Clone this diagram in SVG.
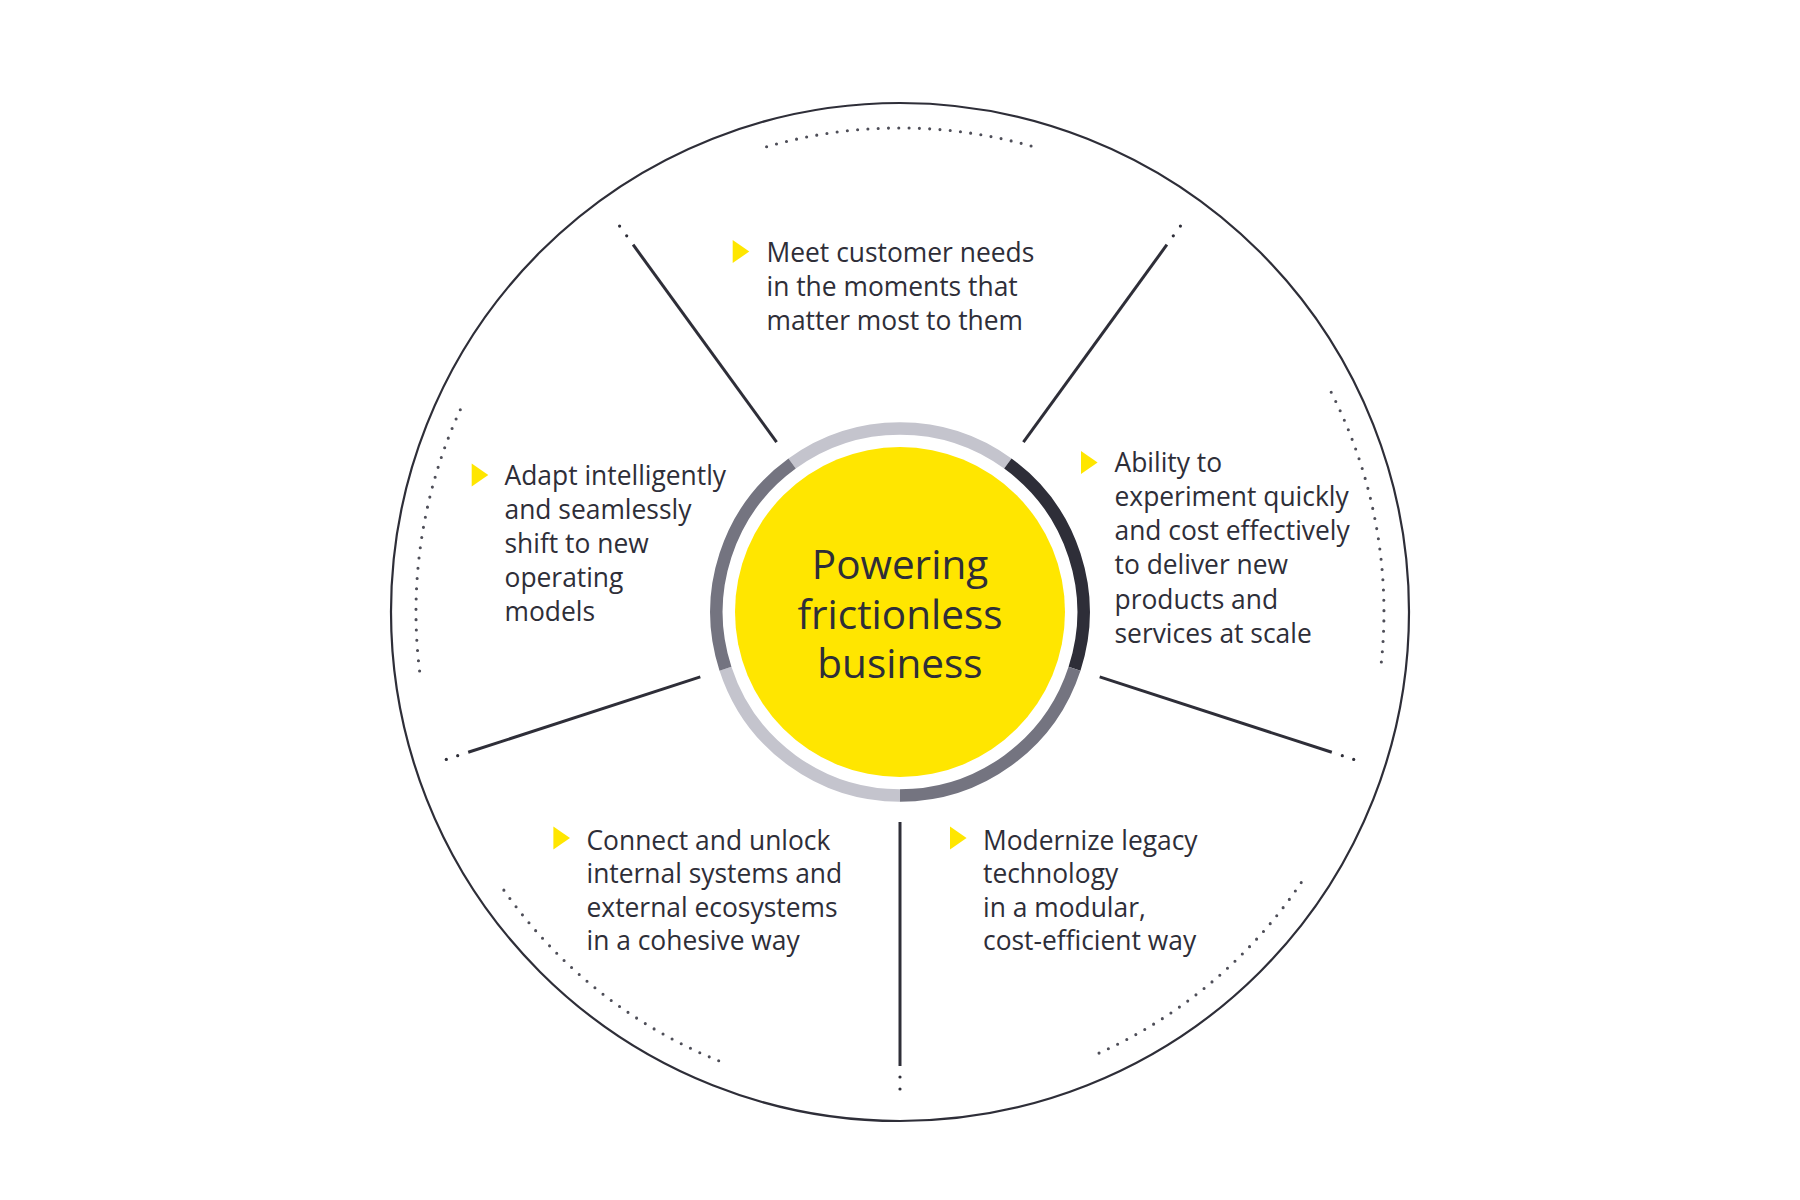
<svg xmlns="http://www.w3.org/2000/svg" width="1800" height="1200" viewBox="0 0 1800 1200">
  <style>
    .bg { fill: #ffffff; }
    .outer { fill: none; stroke: #2e2e38; stroke-width: 2.2; }
    .spoke { stroke: #2e2e38; stroke-width: 3; stroke-linecap: butt; fill: none; }
    .sdot { fill: #2e2e38; }
    .dotarc { fill: none; stroke: #4e4e58; stroke-width: 3.1; stroke-linecap: round; stroke-dasharray: 0 10.3; }
    .seg { fill: none; stroke-width: 12.5; stroke-linecap: butt; }
    .light { stroke: #c4c4cd; }
    .mid { stroke: #747480; }
    .dark { stroke: #2e2e38; }
    .tri { fill: #ffe600; }
    .lbl { font-family: "Open Sans", "Noto Sans", "Liberation Sans", sans-serif; font-size: 26.4px; font-weight: 400; fill: #2e2e38; }
    .ctr { font-family: "Open Sans", "Noto Sans", "Liberation Sans", sans-serif; font-size: 40.5px; font-weight: 400; fill: #2e2e38; text-anchor: middle; }
  </style>
  <rect class="bg" x="0" y="0" width="1800" height="1200"/>

  <g id="outer-circle">
    <circle class="outer" cx="900" cy="612" r="509"/>
  </g>

  <g id="dotted-arcs">
    <path class="dotarc" d="M 766.6 146.7 A 484 484 0 0 1 1033.4 146.7"/>
    <path class="dotarc" d="M 1331.2 392.3 A 484 484 0 0 1 1381.3 662.6"/>
    <path class="dotarc" d="M 1301.2 882.6 A 484 484 0 0 1 1096.8 1054.1"/>
    <path class="dotarc" d="M 718.7 1060.8 A 484 484 0 0 1 503.5 889.6"/>
    <path class="dotarc" d="M 419.6 671.0 A 484 484 0 0 1 461.3 407.5"/>
  </g>

  <g id="connectors">
    <line class="spoke" x1="1099.7" y1="676.9" x2="1331.8" y2="752.3"/>
    <circle class="sdot" cx="1342.3" cy="755.7" r="1.6"/>
    <circle class="sdot" cx="1353.7" cy="759.4" r="1.6"/>
    <line class="spoke" x1="900" y1="822" x2="900" y2="1066"/>
    <circle class="sdot" cx="900" cy="1077" r="1.6"/>
    <circle class="sdot" cx="900" cy="1089" r="1.6"/>
    <line class="spoke" x1="700.3" y1="676.9" x2="468.2" y2="752.3"/>
    <circle class="sdot" cx="457.7" cy="755.7" r="1.6"/>
    <circle class="sdot" cx="446.3" cy="759.4" r="1.6"/>
    <line class="spoke" x1="776.6" y1="442.1" x2="633.1" y2="244.7"/>
    <circle class="sdot" cx="626.7" cy="235.8" r="1.6"/>
    <circle class="sdot" cx="619.6" cy="226.1" r="1.6"/>
    <line class="spoke" x1="1023.4" y1="442.1" x2="1166.9" y2="244.7"/>
    <circle class="sdot" cx="1173.3" cy="235.8" r="1.6"/>
    <circle class="sdot" cx="1180.4" cy="226.1" r="1.6"/>
  </g>

  <g id="center-node">
    <path class="seg light" d="M 792.14 463.55 A 183.5 183.5 0 0 1 1007.86 463.55"/>
    <path class="seg dark" d="M 1007.86 463.55 A 183.5 183.5 0 0 1 1074.52 668.70"/>
    <path class="seg mid" d="M 1074.52 668.70 A 183.5 183.5 0 0 1 900 795.5"/>
    <path class="seg light" d="M 900 795.5 A 183.5 183.5 0 0 1 725.48 668.70"/>
    <path class="seg mid" d="M 725.48 668.70 A 183.5 183.5 0 0 1 792.14 463.55"/>
    <circle cx="900" cy="612" r="165" fill="#ffe600"/>
    <text class="ctr" x="900" y="579">Powering</text>
    <text class="ctr" x="900" y="628.5">frictionless</text>
    <text class="ctr" x="900" y="678">business</text>
  </g>

  <g id="node-top">
    <polygon class="tri" points="732.7,240 749.3,251.5 732.7,263"/>
    <text class="lbl" x="766.5" y="261.5">Meet customer needs</text>
    <text class="lbl" x="766.5" y="295.5">in the moments that</text>
    <text class="lbl" x="766.5" y="329.5">matter most to them</text>
  </g>

  <g id="node-right">
    <polygon class="tri" points="1081,451 1097.6,462.5 1081,474"/>
    <text class="lbl" x="1114.5" y="472">Ability to</text>
    <text class="lbl" x="1114.5" y="506">experiment quickly</text>
    <text class="lbl" x="1114.5" y="540">and cost effectively</text>
    <text class="lbl" x="1114.5" y="574">to deliver new</text>
    <text class="lbl" x="1114.5" y="608.5">products and</text>
    <text class="lbl" x="1114.5" y="643">services at scale</text>
  </g>

  <g id="node-bottom-right">
    <polygon class="tri" points="950,826.5 966.6,838 950,849.5"/>
    <text class="lbl" x="983" y="849.5">Modernize legacy</text>
    <text class="lbl" x="983" y="883">technology</text>
    <text class="lbl" x="983" y="916.5">in a modular,</text>
    <text class="lbl" x="983" y="950">cost-efficient way</text>
  </g>

  <g id="node-bottom-left">
    <polygon class="tri" points="553.4,826.5 570,838 553.4,849.5"/>
    <text class="lbl" x="586.5" y="849.5">Connect and unlock</text>
    <text class="lbl" x="586.5" y="883">internal systems and</text>
    <text class="lbl" x="586.5" y="916.5">external ecosystems</text>
    <text class="lbl" x="586.5" y="950">in a cohesive way</text>
  </g>

  <g id="node-left">
    <polygon class="tri" points="471.7,463.5 488.3,475 471.7,486.5"/>
    <text class="lbl" x="504.5" y="485">Adapt intelligently</text>
    <text class="lbl" x="504.5" y="519">and seamlessly</text>
    <text class="lbl" x="504.5" y="553">shift to new</text>
    <text class="lbl" x="504.5" y="587">operating</text>
    <text class="lbl" x="504.5" y="621">models</text>
  </g>
</svg>
